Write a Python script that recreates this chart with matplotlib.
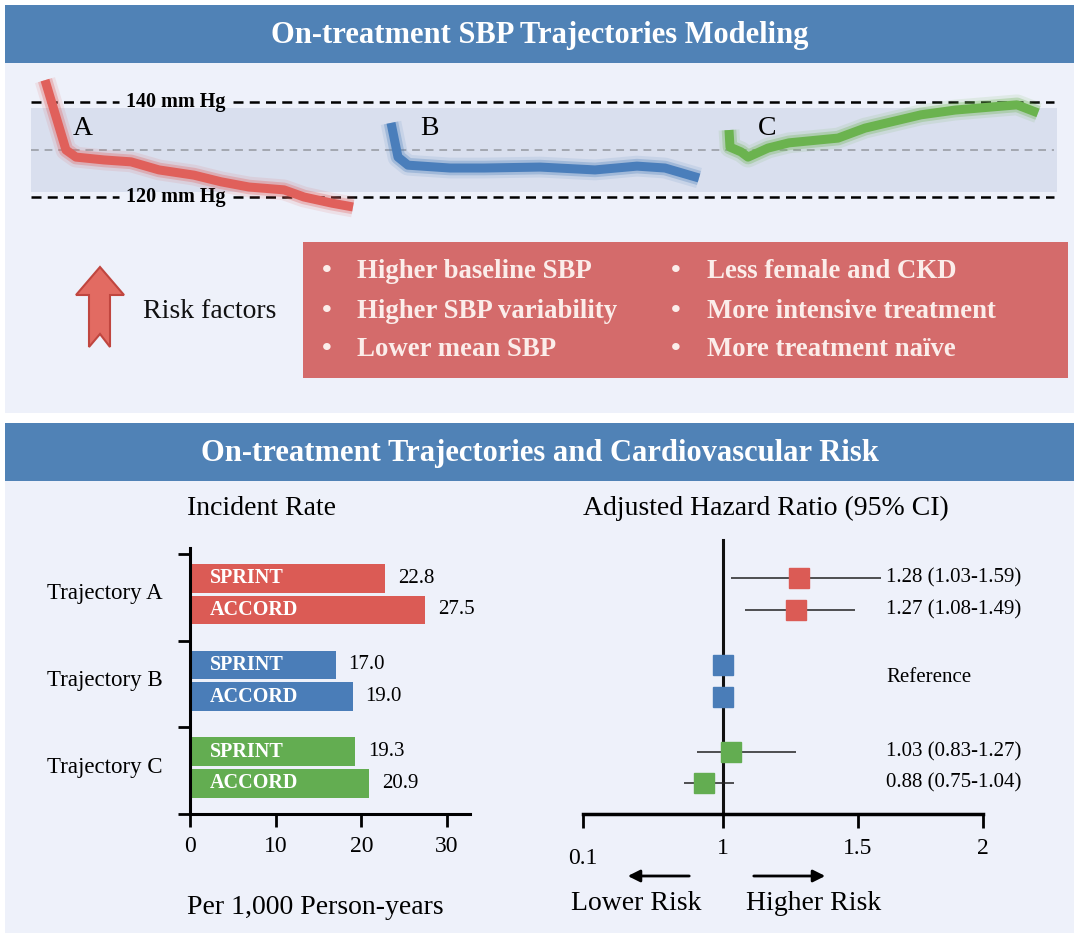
import numpy as np
import matplotlib
matplotlib.use("Agg")
import matplotlib.pyplot as plt
import matplotlib.patheffects as pe
from matplotlib.patches import Rectangle, Polygon
from matplotlib.transforms import blended_transform_factory, ScaledTranslation

plt.rcParams["font.family"] = ["Liberation Serif", "DejaVu Serif"]

W, H = 1080, 939

# --- data -------------------------------------------------------------
# SBP trajectories (horizontal position, mm Hg)
traj_a_t = [45, 66, 76, 104, 131, 159, 194, 221, 249, 284, 304, 332, 353]
traj_a_sbp = [144.6, 129.9, 128.4, 127.8, 127.4, 125.7, 124.6, 123.2, 122.1, 121.5, 120.0, 118.7, 117.9]
traj_b_t = [391, 398, 408, 450, 484, 540, 595, 637, 665, 699]
traj_b_sbp = [135.6, 128.4, 126.7, 126.1, 126.1, 126.3, 125.7, 126.5, 126.1, 124.0]
traj_c_t = [729, 730, 741, 748, 768, 789, 838, 865, 921, 955, 1017, 1038]
traj_c_sbp = [134.1, 130.5, 129.5, 128.4, 130.3, 131.4, 132.4, 134.5, 137.3, 138.3, 139.4, 137.7]

risk_left = ["Higher baseline SBP", "Higher SBP variability", "Lower mean SBP"]
risk_right = ["Less female and CKD", "More intensive treatment", "More treatment naïve"]

trajectories = ["Trajectory A", "Trajectory B", "Trajectory C"]
studies = ["SPRINT", "ACCORD"]
rate_sprint = [22.8, 17.0, 19.3]
rate_accord = [27.5, 19.0, 20.9]

hr_sprint = [1.28, 1.00, 1.03]
lo_sprint = [1.03, np.nan, 0.83]
hi_sprint = [1.59, np.nan, 1.27]
hr_accord = [1.27, 1.00, 0.88]
lo_accord = [1.08, np.nan, 0.75]
hi_accord = [1.49, np.nan, 1.04]
hr_text_sprint = ["1.28 (1.03-1.59)", "Reference", "1.03 (0.83-1.27)"]
hr_text_accord = ["1.27 (1.08-1.49)", "", "0.88 (0.75-1.04)"]

colors = ["#DB5B55", "#4A7DB8", "#63AD51"]
line_colors = ["#E0605B", "#4A7EBB", "#6BB34F"]

HEADER = "#5082B6"
PANEL = "#EEF1FA"
BAND = "#D9DFEE"
BOX = "#D46B6B"
BOXTXT = "#FBEDEA"


def px_rect(left, top, right, bottom):
    return [left / W, 1 - bottom / H, (right - left) / W, (bottom - top) / H]


fig = plt.figure(figsize=(W / 100, H / 100), dpi=100)
fig.patch.set_facecolor("white")

# background / decoration layer in pixel coordinates
bg = fig.add_axes([0, 0, 1, 1], zorder=0)
bg.set_xlim(0, W)
bg.set_ylim(H, 0)
bg.axis("off")

for top, bottom, title in [(5, 413, "On-treatment SBP Trajectories Modeling"),
                           (423, 933, "On-treatment Trajectories and Cardiovascular Risk")]:
    bg.add_patch(Rectangle((5, top), 1069, bottom - top, facecolor=PANEL, edgecolor="none"))
    bg.add_patch(Rectangle((5, top), 1069, 58, facecolor=HEADER, edgecolor="none"))
    bg.text(540, top + 30, title, color="white", fontsize=22, fontweight="bold",
            ha="center", va="center")

# risk factor box
bg.add_patch(Rectangle((303, 242), 765, 136, facecolor=BOX, edgecolor="none"))
for i, (l, r) in enumerate(zip(risk_left, risk_right)):
    y = 272 + i * 39
    for bx, tx, s in [(327, 357, l), (676, 707, r)]:
        bg.text(bx, y, "•", color=BOXTXT, fontsize=20, fontweight="bold", ha="center", va="center")
        bg.text(tx, y, s, color=BOXTXT, fontsize=19.3, fontweight="bold", ha="left", va="center")

# up arrow
arrow = Polygon([(100, 267), (124, 295), (110, 295), (110, 347), (100, 334),
                 (89, 347), (89, 295), (76, 295)], closed=True,
                facecolor="#E26B62", edgecolor="#C0463F", linewidth=1.5)
bg.add_patch(arrow)
bg.text(143, 311, "Risk factors", fontsize=20, ha="left", va="center", color="#111111")

# --- trajectories -----------------------------------------------------
ax_t = fig.add_axes(px_rect(0, 60, W, 230), zorder=1)
ax_t.set_xlim(0, W)
ax_t.set_ylim(140 - 128 / 4.75, 140 + 42 / 4.75)
ax_t.axis("off")
ax_t.patch.set_alpha(0)

ax_t.add_patch(Rectangle((31, 121.1), 1026, 17.6, facecolor=BAND, edgecolor="none", zorder=0))
ax_t.hlines(130, 31, 1054, colors="#A3A7B0", linestyles=(0, (4, 3)), linewidth=1.4, zorder=1)
for lvl in [140, 120]:
    ax_t.hlines(lvl, 31, 119, colors="black", linestyles=(0, (4, 2.5)), linewidth=1.8, zorder=1)
    ax_t.hlines(lvl, 233, 1054, colors="black", linestyles=(0, (4, 2.5)), linewidth=1.8, zorder=1)
    ax_t.text(176, lvl, f"{lvl} mm Hg", fontsize=14.5, fontweight="bold", ha="center",
              va="center", zorder=2)

for t, s, c, lab in [(traj_a_t, traj_a_sbp, line_colors[0], "A"),
                     (traj_b_t, traj_b_sbp, line_colors[1], "B"),
                     (traj_c_t, traj_c_sbp, line_colors[2], "C")]:
    ax_t.plot(t, s, color=c, linewidth=6.5, solid_capstyle="butt", solid_joinstyle="round",
              zorder=3,
              path_effects=[pe.Stroke(linewidth=15, foreground=c, alpha=0.12),
                            pe.Stroke(linewidth=10.5, foreground=c, alpha=0.3),
                            pe.Normal()])
    ax_t.text(t[0] + 38, 134.5, lab, fontsize=20, ha="center", va="center", zorder=4)

# --- incident rate bars -------------------------------------------------
ax_b = fig.add_axes(px_rect(190, 548, 470, 814), zorder=1)
ax_b.patch.set_alpha(0)
ypos = np.arange(3)
off_s, off_a, bh = 0.28, 0.645, 0.33
ax_b.barh(ypos + off_s, rate_sprint, height=bh, color=colors, zorder=2)
ax_b.barh(ypos + off_a, rate_accord, height=bh, color=colors, zorder=2)
for i in range(3):
    for off, study, val in [(off_s, studies[0], rate_sprint[i]), (off_a, studies[1], rate_accord[i])]:
        ax_b.text(2.3, i + off, study, color="white", fontsize=14.5, fontweight="bold",
                  ha="left", va="center", zorder=3)
        ax_b.text(val + 1.5, i + off, f"{val:.1f}", fontsize=15, ha="left", va="center",
                  clip_on=False)
    ax_b.text(-3.2, i + 0.46, trajectories[i], fontsize=16.5, ha="right", va="center",
              clip_on=False)

ax_b.set_xlim(0, 32.7)
ax_b.set_ylim(3, -0.07)
ax_b.set_xticks([0, 10, 20, 30])
ax_b.set_yticks([0, 1, 2, 3])
ax_b.set_yticklabels([])
ax_b.tick_params(axis="both", direction="out", length=9, width=2, labelsize=17, pad=7)
for side in ["top", "right"]:
    ax_b.spines[side].set_visible(False)
for side in ["left", "bottom"]:
    ax_b.spines[side].set_linewidth(2.2)
ax_b.set_title("Incident Rate", fontsize=20, loc="left", pad=24, x=-0.01)
ax_b.set_xlabel("Per 1,000 Person-years", fontsize=20, labelpad=27, loc="left")
ax_b.xaxis.label.set_x(-0.01)

# --- hazard ratios ------------------------------------------------------
xp = [0.1, 1.0, 1.5, 2.0]
fp = [0.0, 140.0, 275.0, 400.0]


def fwd(x):
    return np.interp(x, xp, fp)


def inv(y):
    return np.interp(y, fp, xp)


ax_f = fig.add_axes(px_rect(583, 548, 983, 814), zorder=1)
ax_f.patch.set_alpha(0)
ax_f.set_xscale("function", functions=(fwd, inv))
ax_f.set_xlim(0.1, 2.0)
ax_f.set_ylim(3, -0.07)
ax_f.axvline(1.0, ymin=0, ymax=1.03, color="#111111", linewidth=2.2, clip_on=False, zorder=1)

for i in range(3):
    for off, hr, lo, hi in [(off_s, hr_sprint[i], lo_sprint[i], hi_sprint[i]),
                            (off_a, hr_accord[i], lo_accord[i], hi_accord[i])]:
        if not np.isnan(lo):
            ax_f.hlines(i + off, lo, hi, color="#222222", linewidth=1.1, zorder=2)
        ax_f.plot(hr, i + off, marker="s", markersize=15, color=colors[i],
                  linestyle="none", zorder=3, clip_on=False)

tr = blended_transform_factory(bg.transData, ax_f.transData)
for i in range(3):
    if hr_text_accord[i]:
        ax_f.text(886, i + off_s, hr_text_sprint[i], fontsize=15, ha="left", va="center",
                  transform=tr)
        ax_f.text(886, i + off_a, hr_text_accord[i], fontsize=15, ha="left", va="center",
                  transform=tr)
    else:
        ax_f.text(886, i + 0.42, hr_text_sprint[i], fontsize=15, ha="left", va="center",
                  transform=tr)

ax_f.set_xticks(xp)
ax_f.set_xticklabels(["0.1", "1", "1.5", "2"])
ax_f.minorticks_off()
ax_f.set_yticks([])
ax_f.tick_params(axis="x", direction="out", length=10, width=2, labelsize=17, pad=7)
for side in ["top", "right", "left"]:
    ax_f.spines[side].set_visible(False)
ax_f.spines["bottom"].set_linewidth(2.5)
lbl0 = ax_f.get_xticklabels()[0]
lbl0.set_transform(lbl0.get_transform() + ScaledTranslation(0, -0.1, fig.dpi_scale_trans))

bg.text(766, 508, "Adjusted Hazard Ratio (95% CI)", fontsize=20, ha="center", va="center")
bg.annotate("", xy=(625, 876), xytext=(692, 876),
            arrowprops=dict(arrowstyle="-|>", color="black", lw=2, mutation_scale=18))
bg.annotate("", xy=(828, 876), xytext=(751, 876),
            arrowprops=dict(arrowstyle="-|>", color="black", lw=2, mutation_scale=18))
bg.text(636, 904, "Lower Risk", fontsize=20, ha="center", va="center")
bg.text(814, 904, "Higher Risk", fontsize=20, ha="center", va="center")

fig.savefig("out.png", dpi=100, facecolor=fig.get_facecolor())
